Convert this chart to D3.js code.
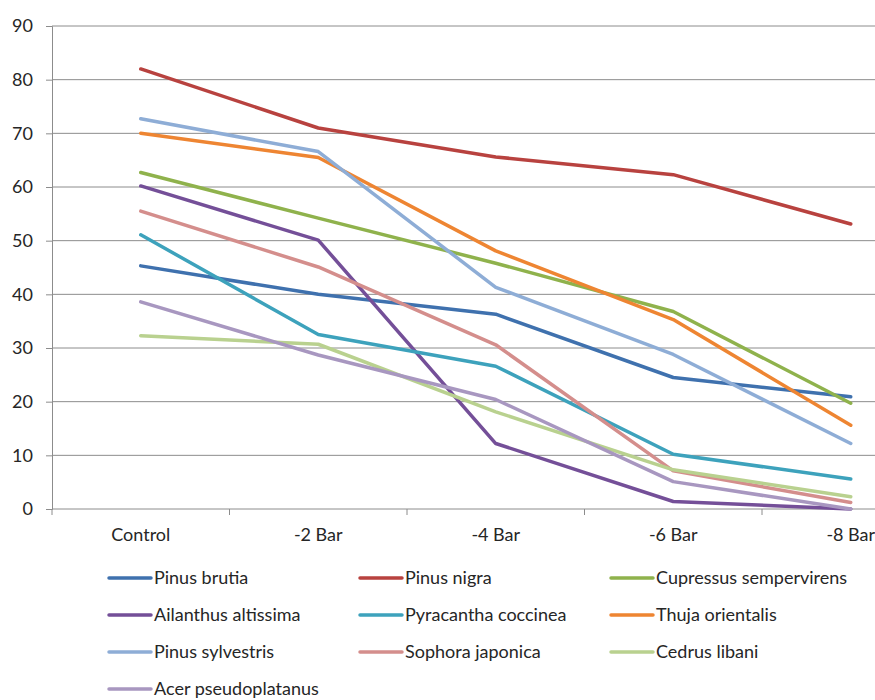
<!DOCTYPE html>
<html>
<head>
<meta charset="utf-8">
<script src="https://cdn.jsdelivr.net/npm/d3@7.9.0/dist/d3.min.js"></script>
<style>
  body { margin: 0; background: #fff; }
  svg { display: block; font-family: Lato, "Open Sans", sans-serif; }
</style>
</head>
<body>
<svg id="chart" width="875" height="700"></svg>
<script>
const categories = ['Control', '-2 Bar', '-4 Bar', '-6 Bar', '-8 Bar'];
const yTicks = [0, 10, 20, 30, 40, 50, 60, 70, 80, 90];

const seriesNames = [
  'Pinus brutia', 'Pinus nigra', 'Cupressus sempervirens',
  'Ailanthus altissima', 'Pyracantha coccinea', 'Thuja orientalis',
  'Pinus sylvestris', 'Sophora japonica', 'Cedrus libani',
  'Acer pseudoplatanus'
];

const pinusBrutia = [45.3, 40.0, 36.3, 24.5, 20.9];
const pinusNigra = [82.0, 71.0, 65.6, 62.3, 53.1];
const cupressus = [62.7, 54.2, 45.8, 36.8, 19.7];
const ailanthus = [60.2, 50.1, 12.2, 1.4, 0];
const pyracantha = [51.1, 32.5, 26.6, 10.2, 5.6];
const thuja = [70.0, 65.5, 48.1, 35.3, 15.6];
const pinusSylvestris = [72.7, 66.6, 41.3, 28.8, 12.2];
const sophora = [55.5, 45.1, 30.6, 7.1, 1.2];
const cedrus = [32.3, 30.7, 18.1, 7.3, 2.3];
const acer = [38.6, 28.7, 20.4, 5.1, 0];

const seriesValues = [pinusBrutia, pinusNigra, cupressus, ailanthus, pyracantha,
  thuja, pinusSylvestris, sophora, cedrus, acer];

const colors = ['#3F71AE', '#B8423F', '#8FB24C', '#744F98', '#3DA2BC',
  '#EE8532', '#8EADD6', '#D48E8C', '#B9D18F', '#A897C0'];

const svg = d3.select('#chart');

const x = d3.scaleBand().domain(categories).range([52, 939.5]);
const y = d3.scaleLinear().domain([0, 90]).range([509, 26]);

// gridlines
svg.append('g')
  .selectAll('line')
  .data(yTicks.filter(d => d > 0))
  .join('line')
  .attr('x1', 52).attr('x2', 875)
  .attr('y1', d => y(d)).attr('y2', d => y(d))
  .attr('stroke', '#8c8c8c').attr('stroke-width', 1);

// y axis
const yAxis = svg.append('g')
  .attr('transform', 'translate(52,0)')
  .call(d3.axisLeft(y).tickValues(yTicks).tickSize(6).tickPadding(13));
yAxis.select('.domain').attr('stroke', '#8c8c8c');
yAxis.selectAll('.tick line').attr('stroke', '#8c8c8c');
yAxis.selectAll('.tick text')
  .attr('font-size', 18).attr('fill', '#262626')
  .attr('font-family', 'Lato, sans-serif');

// x axis
svg.append('line')
  .attr('x1', 52).attr('x2', 875)
  .attr('y1', y(0)).attr('y2', y(0))
  .attr('stroke', '#8c8c8c');

const tickPos = d3.range(categories.length + 1).map(i => 52 + i * x.bandwidth());
svg.append('g')
  .selectAll('line')
  .data(tickPos)
  .join('line')
  .attr('x1', d => d).attr('x2', d => d)
  .attr('y1', y(0)).attr('y2', y(0) + 6)
  .attr('stroke', '#8c8c8c');

svg.append('g')
  .selectAll('text')
  .data(categories)
  .join('text')
  .attr('x', d => x(d) + x.bandwidth() / 2)
  .attr('y', 541)
  .attr('text-anchor', 'middle')
  .attr('font-size', 18)
  .attr('fill', '#262626')
  .text(d => d);

// lines
const line = d3.line()
  .x((d, i) => x(categories[i]) + x.bandwidth() / 2)
  .y(d => y(d));

svg.append('g')
  .selectAll('path')
  .data(seriesValues)
  .join('path')
  .attr('d', d => line(d))
  .attr('fill', 'none')
  .attr('stroke', (d, i) => colors[i])
  .attr('stroke-width', 3.5)
  .attr('stroke-linejoin', 'round')
  .attr('stroke-linecap', 'round');

// legend
const legend = svg.append('g');
const colX = [109, 360, 611];
const rowY = [578, 615, 652, 689];
seriesNames.forEach((name, i) => {
  const gx = colX[i % 3], gy = rowY[Math.floor(i / 3)];
  legend.append('line')
    .attr('x1', gx).attr('x2', gx + 42)
    .attr('y1', gy).attr('y2', gy)
    .attr('stroke', colors[i]).attr('stroke-width', 3.5)
    .attr('stroke-linecap', 'round');
  legend.append('text')
    .attr('x', gx + 45).attr('y', gy + 6)
    .attr('font-size', 18)
    .attr('fill', '#262626')
    .text(name);
});
</script>
</body>
</html>
